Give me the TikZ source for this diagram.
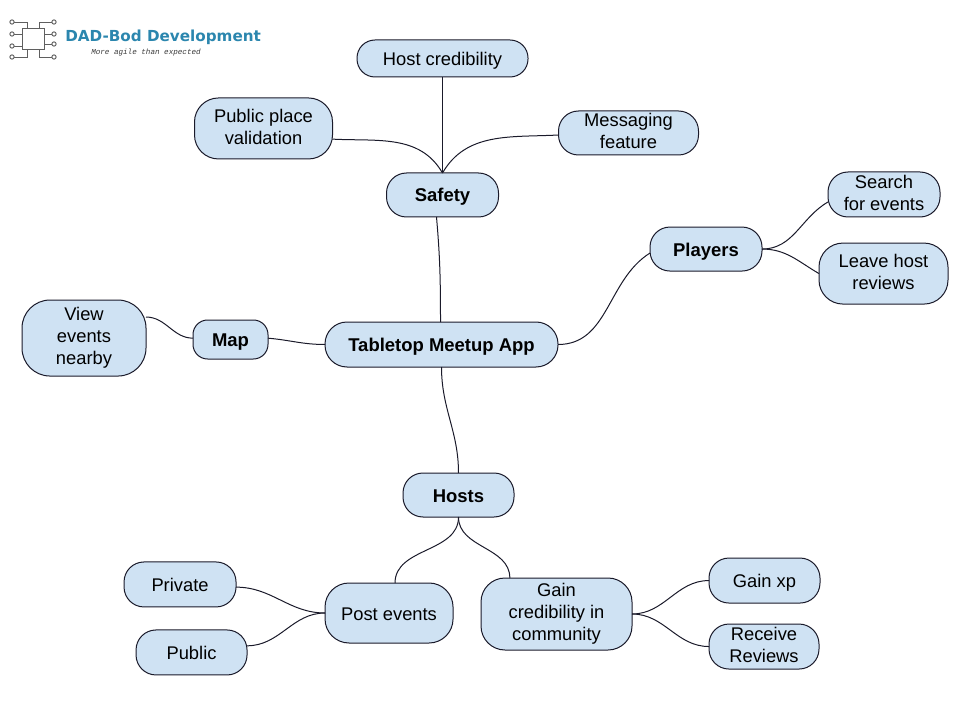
\documentclass[tikz,border=0pt]{standalone}
\usepackage{fontspec}
\setmainfont{Liberation Sans}
\newfontfamily\logofont{DejaVu Sans}
\newfontfamily\mottofont{Liberation Mono}
\usetikzlibrary{positioning}
\definecolor{bubble}{HTML}{CFE2F3}
\definecolor{inkline}{HTML}{1A1A2A}
\definecolor{logoblue}{HTML}{2B86AE}
\definecolor{logogray}{HTML}{5F5F5F}

\begin{document}
\begin{tikzpicture}[
  x=0.75pt, y=-0.75pt,
  box/.style={draw=inkline, fill=bubble, line width=0.75pt, rounded corners=15pt, align=center, inner sep=0pt, outer sep=0pt, font=\fontsize{13.75}{16.5}\selectfont, execute at begin node={\rule{0pt}{13.5pt}}, execute at end node={\rule[-3pt]{0pt}{3pt}}},
  bigbox/.style={box, rounded corners=18pt},
  topic/.style={box, font=\fontsize{13.85}{16.5}\selectfont\bfseries},
  link/.style={draw=inkline, line width=0.75pt},
  chip/.style={draw=logogray, line width=0.7pt},
  pin/.style={chip, circle, inner sep=0pt, minimum size=3.2pt, fill=white},
]
  \useasboundingbox (0,0) rectangle (960,720);

  % main branches
  \node[topic, minimum width=174.75pt, minimum height=33.75pt, rounded corners=16.5pt] (app) at (441.5,344.5) {Tabletop Meetup App};
  \node[topic, minimum width=84pt, minimum height=33pt, above=78.75pt of app, xshift=0.75pt] (safety) {Safety};
  \node[topic, minimum width=84pt, minimum height=33pt, right=69pt of app, yshift=71.6pt] (players) {Players};
  \node[topic, minimum width=56.25pt, minimum height=29.25pt, left=42.75pt of app, yshift=3.75pt, rounded corners=11pt] (map) {Map};
  \node[topic, minimum width=83.25pt, minimum height=33pt, below=79.5pt of app, xshift=12.75pt] (hosts) {Hosts};

  % safety
  \node[box, minimum width=128.25pt, minimum height=27.75pt, above=72pt of safety, rounded corners=13.5pt] (credibility) {Host credibility};
  \node[bigbox, minimum width=103.5pt, minimum height=45.75pt, left=40.5pt of safety, yshift=49.9pt] (place) {Public place\\validation};
  \node[box, minimum width=105pt, minimum height=33pt, right=45pt of safety, yshift=46.5pt] (messaging) {Messaging\\feature};

  % players
  \node[box, minimum width=84pt, minimum height=33.75pt, right=49.5pt of players, yshift=40.9pt] (search) {Search\\for events};
  \node[bigbox, minimum width=96.75pt, minimum height=45.75pt, right=42.75pt of players, yshift=-18.4pt] (reviews) {Leave host\\reviews};

  % map
  \node[bigbox, minimum width=93pt, minimum height=57pt, left=35.25pt of map, yshift=1.1pt, rounded corners=21pt] (nearby) {View\\events\\nearby};

  % hosts
  \node[bigbox, minimum width=96pt, minimum height=45pt, below=49.5pt of hosts, xshift=-52.1pt] (post) {Post events};
  \node[bigbox, minimum width=113.25pt, minimum height=54pt, below=45.75pt of hosts, xshift=73.5pt] (gain) {Gain\\credibility in\\community};
  \node[box, minimum width=84pt, minimum height=33.75pt, left=66.75pt of post, yshift=21.4pt] (private) {Private};
  \node[box, minimum width=83.25pt, minimum height=33.75pt, left=58.5pt of post, yshift=-29.6pt] (public) {Public};
  \node[box, minimum width=83.25pt, minimum height=33.75pt, right=57.75pt of gain, yshift=25.1pt] (xp) {Gain xp};
  \node[box, minimum width=82.5pt, minimum height=33.75pt, right=57.75pt of gain, yshift=-24.4pt] (receive) {Receive\\Reviews};

  % connectors
  \draw[link] (credibility) -- (safety);
  \draw[link] ([yshift=-8pt]place.east) to[out=-3, in=120] (safety.north);
  \draw[link] ([yshift=-1.5pt]messaging.west) to[out=183, in=60] (safety.north);
  \draw[link] ([xshift=-4.5pt]safety.south) to[out=-85, in=90] ([xshift=-0.75pt]app.north);
  \draw[link] (app.east) to[out=0, in=212] ([yshift=-3pt]players.west);
  \draw[link] (players.east) to[out=0, in=210] ([yshift=-5.6pt]search.west);
  \draw[link] (players.east) to[out=0, in=150] (reviews.west);
  \draw[link] ([yshift=1pt]map.west) to[out=180, in=0] ([yshift=15.75pt]nearby.east);
  \draw[link] (app.west) to[out=180, in=-5] ([yshift=1pt]map.east);
  \draw[link] (app.south) to[out=-90, in=90] (hosts.north);
  \draw[link] (hosts.south) to[out=-90, in=90] ([xshift=4.5pt]post.north);
  \draw[link] (hosts.south) to[out=-90, in=90] ([xshift=-35pt]gain.north);
  \draw[link] (post.west) to[out=180, in=0] ([yshift=-2pt]private.east);
  \draw[link] (post.west) to[out=180, in=0] ([yshift=5pt]public.east);
  \draw[link] (gain.east) to[out=0, in=180] (xp.west);
  \draw[link] (gain.east) to[out=0, in=180] (receive.west);

  % logo
  \draw[chip] (22,28) rectangle (44,49);
  \foreach \px/\py/\bx/\by in {12/22/27/28, 54/22/39/28, 12/57/27/49, 54/57/39/49} {
    \draw[chip] (\px,\py) -- (\bx,\py) -- (\bx,\by);
    \node[pin] at (\px,\py) {};
  }
  \foreach \px/\py/\bx in {12/34/22, 12/46/22, 54/34/44, 54/44/44} {
    \draw[chip] (\px,\py) -- (\bx,\py);
    \node[pin] at (\px,\py) {};
  }
  \node[anchor=west, inner sep=0pt, text=logoblue, font=\logofont\bfseries\fontsize{11.4}{12}\selectfont] (brand) at (65,37) {DAD-Bod Development};
  \node[anchor=west, inner sep=0pt, text=logogray!60!black, font=\mottofont\itshape\fontsize{5.7}{6}\selectfont] (motto) at (91,53) {More agile than expected};
\end{tikzpicture}
\end{document}
